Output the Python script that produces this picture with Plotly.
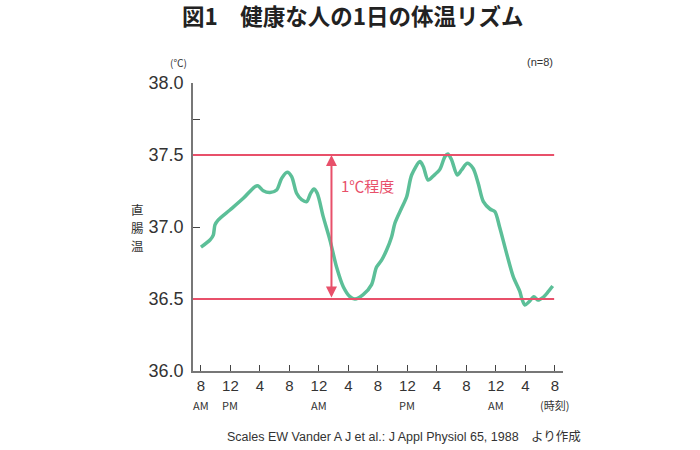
import plotly.graph_objects as go

# ---- data ----
hours = [0, 1.22, 1.67, 1.9, 2.35, 3.93, 5.74, 7.32, 7.77, 8.45, 9.36, 10.26, 10.94, 11.7, 12.3,
         12.97, 13.65, 14.33, 14.87, 15.32, 15.77, 16.58, 17.49, 18.4, 19.3, 20.2, 20.88, 22.0,
         23.14, 23.8, 24.5, 25.18, 25.86, 26.3, 27.2, 27.9, 28.57, 29.7, 30.15, 30.8, 31.5, 32.4,
         33.08, 33.5, 34.0, 34.76, 35.35, 36.1, 36.9, 37.6, 38.3, 39.2, 39.86, 40.5, 41.45, 42.35,
         43.25, 43.5, 43.93, 44.5, 45.15, 45.7, 46.4, 47.1, 47.7]
temps = [36.86, 36.91, 36.944, 37.014, 37.049, 37.118, 37.199, 37.28, 37.285, 37.252, 37.24,
         37.257, 37.338, 37.38, 37.35, 37.234, 37.19, 37.176, 37.234, 37.264, 37.234, 37.072,
         36.91, 36.72, 36.585, 36.516, 36.5, 36.53, 36.6, 36.72, 36.77, 36.84, 36.933, 37.026,
         37.13, 37.21, 37.361, 37.454, 37.42, 37.326, 37.354, 37.40, 37.488, 37.507, 37.465,
         37.361, 37.396, 37.442, 37.408, 37.303, 37.176, 37.125, 37.107, 37.0, 36.817, 36.655,
         36.551, 36.505, 36.458, 36.481, 36.516, 36.493, 36.512, 36.551, 36.59]

x_tickvals = [0, 4, 8, 12, 16, 20, 24, 28, 32, 36, 40, 44, 48]
x_ticktext = ["8", "12", "4", "8", "12", "4", "8", "12", "4", "8", "12", "4", "8"]
sub_label_pos = [0, 4, 16, 28, 40, 48]
sub_label_text = ["AM", "PM", "AM", "PM", "AM", "(時刻)"]
y_tickvals = [36.0, 36.5, 37.0, 37.5, 38.0]
y_ticktext = ["36.0", "36.5", "37.0", "37.5", "38.0"]
y_title_chars = ["直", "腸", "温"]
ref_lines = [36.5, 37.5]
arrow_x = 17.7
X_MIN, X_MAX = -1.08, 49.1
LINE_END = 47.9

RED = "#e8506a"
GREEN = "#5cbf98"
TXT = "#333333"
NUM_FONT = "Liberation Sans Narrow, Liberation Sans, Arial, sans-serif"
JP_FONT = "Noto Sans CJK JP, sans-serif"

fig = go.Figure()
fig.add_trace(go.Scatter(x=hours, y=temps, mode="lines",
                         line=dict(color=GREEN, width=3.5, shape="spline", smoothing=0.8),
                         hoverinfo="skip", showlegend=False))

for v in ref_lines:
    fig.add_shape(type="line", xref="x", yref="y", x0=X_MIN, x1=LINE_END, y0=v, y1=v,
                  line=dict(color=RED, width=2), layer="above")

annotations = []
# double arrow
annotations.append(dict(x=arrow_x, y=ref_lines[1], ax=arrow_x, ay=ref_lines[0], xref="x", yref="y",
                        axref="x", ayref="y", text="", showarrow=True, arrowhead=2,
                        arrowside="end+start", arrowsize=1.1, arrowwidth=2, arrowcolor=RED,
                        standoff=0, startstandoff=0))
annotations.append(dict(x=arrow_x + 1.0, y=37.29, xref="x", yref="y", text="1℃程度",
                        showarrow=False, xanchor="left", yanchor="middle",
                        font=dict(family=JP_FONT, size=15, color=RED)))
# AM/PM row
for p, t in zip(sub_label_pos, sub_label_text):
    annotations.append(dict(x=p, y=0, xref="x", yref="paper", text=t, showarrow=False,
                            yanchor="middle", yshift=-34,
                            font=dict(family=JP_FONT, size=11, color=TXT)))
# y axis title stacked, one glyph per annotation
for i, ch in enumerate(y_title_chars):
    annotations.append(dict(x=0, y=37.0, xref="paper", yref="y", text=ch, showarrow=False,
                            xanchor="center", yanchor="middle", xshift=-56, yshift=18 - 18 * i,
                            borderpad=0, font=dict(family=JP_FONT, size=12.5, color=TXT)))
annotations.append(dict(x=0, y=1, xref="paper", yref="paper", text="(℃)", showarrow=False,
                        xanchor="center", yanchor="middle", xshift=-15, yshift=21,
                        font=dict(family=JP_FONT, size=10, color=TXT)))
annotations.append(dict(x=1, y=1, xref="paper", yref="paper", text="(n=8)", showarrow=False,
                        xanchor="center", yanchor="middle", xshift=-23, yshift=21,
                        font=dict(family=NUM_FONT, size=11, color=TXT)))
annotations.append(dict(x=0.5, y=0, xref="paper", yref="paper",
                        text="Scales EW Vander A J et al.: J Appl Physiol 65, 1988　より作成",
                        showarrow=False, xanchor="center", yanchor="middle", xshift=26, yshift=-66,
                        font=dict(family="Liberation Sans, " + JP_FONT, size=12.5, color=TXT)))

fig.update_layout(
    width=700, height=450,
    margin=dict(l=193, r=137, t=83, b=79),
    paper_bgcolor="white", plot_bgcolor="white",
    title=dict(text="<b>図1　健康な人の1日の体温リズム</b>", x=0.504, xanchor="center",
               y=0.962, yanchor="middle",
               font=dict(family=JP_FONT, size=22.5, color="#222222")),
    xaxis=dict(range=[X_MIN, X_MAX], showline=True, linecolor="#777777", linewidth=1.5,
               showgrid=False, zeroline=False, tickmode="array", tickvals=x_tickvals,
               ticktext=x_ticktext, ticks="inside", ticklen=6, tickcolor="#444444",
               tickfont=dict(family=NUM_FONT, size=15, color=TXT), fixedrange=True),
    yaxis=dict(range=[36, 38], showline=True, linecolor="#777777", linewidth=1.5,
               showgrid=False, zeroline=False, tickmode="array", tickvals=y_tickvals,
               ticktext=y_ticktext, ticks="inside", ticklen=7, tickcolor="#444444",
               tickfont=dict(family=NUM_FONT, size=18, color=TXT), ticklabelstandoff=4,
               minor=dict(tickvals=[37.75], ticks="inside", ticklen=7, tickcolor="#444444"),
               fixedrange=True),
    annotations=annotations,
)

fig.write_html("out.html")
